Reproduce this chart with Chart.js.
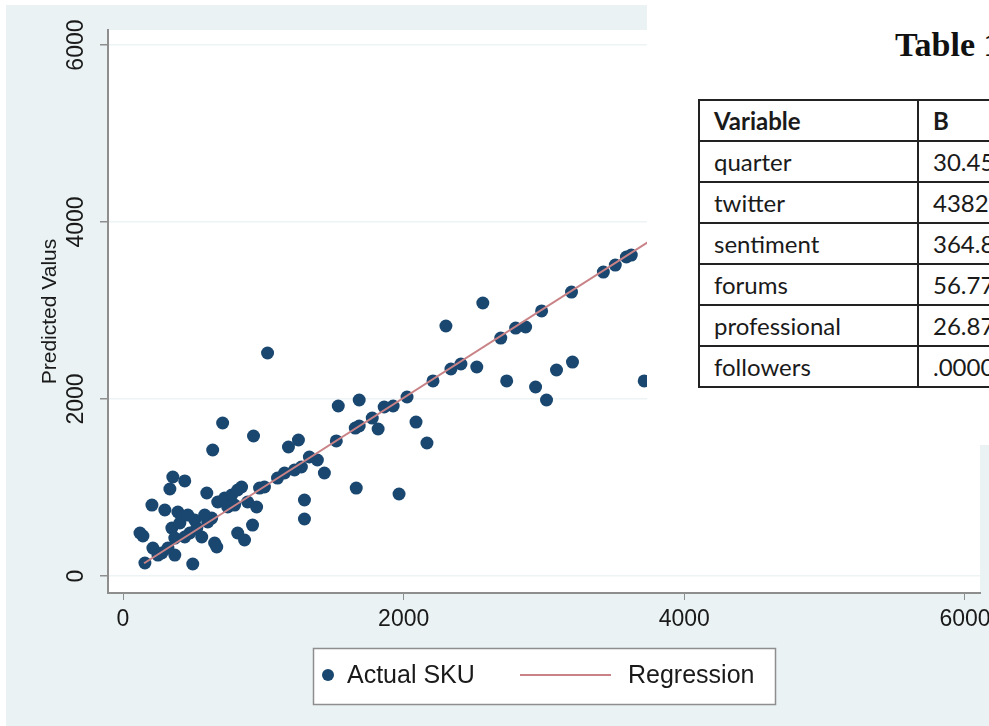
<!DOCTYPE html>
<html>
<head>
<meta charset="utf-8">
<script src="https://cdn.jsdelivr.net/npm/chart.js@4.4.1/dist/chart.umd.min.js"></script>
<style>
    html, body { margin: 0; padding: 0; background: #fff; overflow: hidden; }
    #wrap { position: relative; width: 989px; height: 726px; overflow: hidden; }
    #chart { position: absolute; left: 0; top: 0; }
    #tableBox { position: absolute; left: 647px; top: 0; width: 342px; height: 445px; background: #fff; overflow: hidden; }
    #tableBox h2 { position: absolute; left: 248px; top: 26px; margin: 0; line-height: 34px;
        font: bold 34px "Liberation Serif", serif; color: #111; white-space: nowrap; }
    #coef { position: absolute; left: 51px; top: 99px; width: 379px; border-collapse: collapse;
        font: 24px Lato, sans-serif; color: #1a1a1a; table-layout: fixed; }
    #coef td, #coef th { border: 2px solid #222; height: 39px; padding: 0 0 0 14px; white-space: nowrap;
        overflow: hidden; text-align: left; }
    #coef th { font-weight: bold; }
</style>
</head>
<body>
<div id="wrap">
    <canvas id="chart" width="989" height="726"></canvas>
    <div id="tableBox">
        <h2>Table 1</h2>
        <table id="coef"></table>
    </div>
</div>
<script>
// actual SKU vs predicted
const skuX = [156, 497, 121, 142, 213, 277, 369, 348, 405, 369,
    476, 561, 653, 668, 817, 866, 923, 206, 298, 391,
    462, 355, 440, 334, 597, 249, 320, 440, 511, 582,
    526, 604, 632, 675, 724, 774, 817, 845, 746, 795,
    888, 952, 973, 1008, 1101, 1151, 1222, 1271, 710, 930,
    639, 1030, 1179, 1250, 1328, 1385, 1435, 1293, 1293, 1520,
    1534, 1683, 1655, 1683, 1776, 1818, 1861, 1925, 2024, 2088,
    2166, 1662, 1967, 2209, 2301, 2337, 2408, 2521, 2564, 2692,
    2798, 2869, 2983, 3196, 3423, 3508, 3587, 3622, 2734, 2940,
    3018, 3089, 3203, 3714];
const skuY = [147, 136, 486, 452, 316, 260, 237, 542, 599, 429,
    486, 441, 373, 328, 486, 407, 576, 802, 746, 723,
    689, 1119, 1074, 983, 938, 237, 316, 441, 633, 689,
    542, 610, 655, 836, 881, 915, 972, 1006, 780, 802,
    836, 780, 994, 1006, 1107, 1164, 1198, 1232, 1729, 1582,
    1424, 2520, 1458, 1537, 1345, 1311, 1164, 859, 644, 1526,
    1921, 1989, 1672, 1695, 1785, 1661, 1910, 1921, 2023, 1740,
    1503, 994, 927, 2204, 2825, 2339, 2396, 2362, 3085, 2689,
    2802, 2814, 2995, 3209, 3435, 3514, 3605, 3627, 2204, 2136,
    1989, 2328, 2418, 2204];
const regX = [150, 4300];
const regY = [144, 4339];
const xTicks = [0, 2000, 4000, 6000];
const yTicks = [0, 2000, 4000, 6000];
const seriesNames = ['Actual SKU', 'Regression'];

const tableHead = ['Variable', 'B'];
const tableVars = ['quarter', 'twitter', 'sentiment', 'forums', 'professional', 'followers'];
const tableB = ['30.45', '4382.', '364.8', '56.77', '26.87', '.0000'];

// coefficient table (partly cut off on the right, like the screenshot)
const tbl = document.getElementById('coef');
let html = '<colgroup><col style="width:219px"><col style="width:160px"></colgroup>';
html += '<tr><th>' + tableHead[0] + '</th><th>' + tableHead[1] + '</th></tr>';
for (let i = 0; i < tableVars.length; i++) {
    html += '<tr><td>' + tableVars[i] + '</td><td>' + tableB[i] + '</td></tr>';
}
tbl.innerHTML = html;

const navy = '#1a476f';
const regColor = '#c98387';
const axisGray = '#8e8e8e';
const font = '"Liberation Sans", Arial, sans-serif';

const stataFrame = {
    id: 'stataFrame',
    beforeDraw(chart) {
        const c = chart.ctx, a = chart.chartArea;
        c.save();
        c.fillStyle = '#ffffff';
        c.fillRect(0, 0, chart.width, chart.height);
        c.fillStyle = '#eaf2f3';
        c.fillRect(6, 5, chart.width - 6, chart.height - 5);
        c.fillStyle = '#ffffff';
        c.fillRect(a.left, a.top, a.right - a.left, a.bottom - a.top);
        c.restore();
    },
    afterDraw(chart) {
        // boxed legend like stata's
        const c = chart.ctx;
        const ds = chart.data.datasets;
        c.save();
        c.fillStyle = '#ffffff';
        c.fillRect(313, 648, 462, 56);
        c.strokeStyle = axisGray;
        c.lineWidth = 1.5;
        c.strokeRect(313.5, 648.5, 462, 56);
        c.fillStyle = ds[0].backgroundColor;
        c.beginPath();
        c.arc(328, 675, 6, 0, Math.PI * 2);
        c.fill();
        c.fillStyle = '#1a1a1a';
        c.font = '25px ' + font;
        c.textBaseline = 'middle';
        c.fillText(ds[0].label, 347, 676);
        c.strokeStyle = ds[1].borderColor;
        c.lineWidth = 2;
        c.beginPath();
        c.moveTo(520, 675);
        c.lineTo(611, 675);
        c.stroke();
        c.fillText(ds[1].label, 628, 676);
        c.restore();
    }
};

new Chart(document.getElementById('chart'), {
    type: 'scatter',
    data: {
        datasets: [{
            label: seriesNames[0],
            data: skuX.map((x, i) => ({ x: x, y: skuY[i] })),
            backgroundColor: navy,
            borderWidth: 0,
            pointRadius: 6.5,
            order: 2
        }, {
            type: 'line',
            label: seriesNames[1],
            data: regX.map((x, i) => ({ x: x, y: regY[i] })),
            borderColor: regColor,
            borderWidth: 2,
            pointRadius: 0,
            fill: false,
            order: 1
        }]
    },
    options: {
        responsive: false,
        animation: false,
        devicePixelRatio: 1,
        layout: { padding: { top: 30, right: 9, left: 0, bottom: 0 } },
        plugins: {
            legend: { display: false },
            tooltip: { enabled: false }
        },
        scales: {
            x: {
                type: 'linear',
                min: -107,
                max: 6107,
                afterBuildTicks: s => { s.ticks = xTicks.map(v => ({ value: v })); },
                afterFit: s => { s.height = 133; s.paddingLeft = 0; s.paddingRight = 0; },
                grid: { drawOnChartArea: false, color: axisGray, tickLength: 7 },
                border: { color: axisGray, width: 2 },
                ticks: { padding: 6, color: '#1a1a1a', font: { family: font, size: 23 },
                    callback: v => String(v) }
            },
            y: {
                type: 'linear',
                min: -192,
                max: 6170,
                afterBuildTicks: s => { s.ticks = yTicks.map(v => ({ value: v })); },
                afterFit: s => { s.width = 108; s.paddingTop = 0; s.paddingBottom = 0; },
                grid: { color: '#eef4f5', lineWidth: 1.5, tickColor: axisGray, tickLength: 8 },
                border: { color: axisGray, width: 2 },
                ticks: { minRotation: 90, maxRotation: 90, crossAlign: 'center', padding: -2,
                    color: '#1a1a1a', font: { family: font, size: 23 },
                    callback: v => String(v) },
                title: { display: true, text: 'Predicted Valus', color: '#1a1a1a',
                    font: { family: font, size: 21 }, padding: { top: 38, bottom: 0 } }
            }
        }
    },
    plugins: [stataFrame]
});
</script>
</body>
</html>
